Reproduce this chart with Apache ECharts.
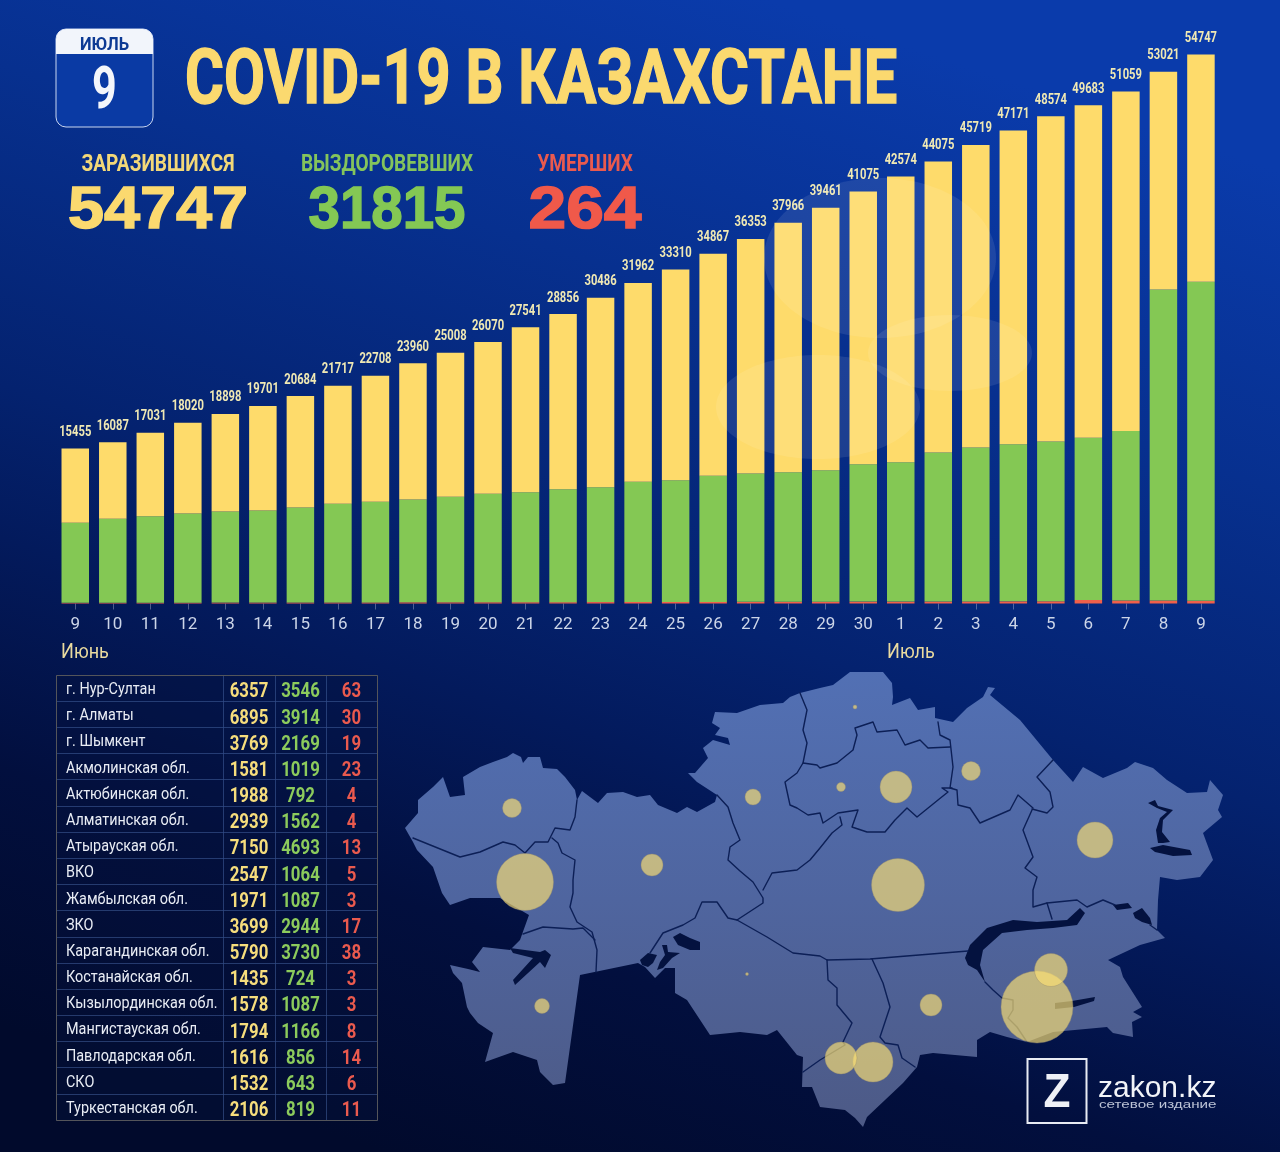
<!DOCTYPE html>
<html>
<head>
<meta charset="utf-8">
<style>html,body{margin:0;padding:0;background:#021040}#chart{width:1280px;height:1152px}</style>
<script src="https://cdn.jsdelivr.net/npm/echarts@6/dist/echarts.min.js"></script>
</head>
<body>
<div id="chart"></div>
<script>
var ROBOTO = 'Roboto,"Liberation Sans",sans-serif';
var SANS = '"Liberation Sans",sans-serif';

// bar chart
var days = ['9','10','11','12','13','14','15','16','17','18','19','20','21','22','23','24','25','26','27','28','29','30','1','2','3','4','5','6','7','8','9'];
var totals = [15455,16087,17031,18020,18898,19701,20684,21717,22708,23960,25008,26070,27541,28856,30486,31962,33310,34867,36353,37966,39461,41075,42574,44075,45719,47171,48574,49683,51059,53021,54747];
var recovered = [7981,8375,8631,8892,9084,9179,9474,9838,10031,10252,10519,10812,10967,11262,11453,11985,12137,12571,12791,12914,13109,13700,13900,14860,15349,15670,15930,16170,16898,31006,31815];
var deaths = [65,70,73,81,88,93,97,102,108,117,119,125,130,134,142,148,156,161,170,177,181,188,188,195,204,212,221,350,300,300,264];
var active = totals.map(function(t, i) { return t - recovered[i] - deaths[i]; });

// table
var regions = ['г. Нур-Султан','г. Алматы','г. Шымкент','Акмолинская обл.','Актюбинская обл.','Алматинская обл.','Атырауская обл.','ВКО','Жамбылская обл.','ЗКО','Карагандинская обл.','Костанайская обл.','Кызылординская обл.','Мангистауская обл.','Павлодарская обл.','СКО','Туркестанская обл.'];
var regionCases = [6357,6895,3769,1581,1988,2939,7150,2547,1971,3699,5790,1435,1578,1794,1616,1532,2106];
var regionRecovered = [3546,3914,2169,1019,792,1562,4693,1064,1087,2944,3730,724,1087,1166,856,643,819];
var regionDeaths = [63,30,19,23,4,4,13,5,3,17,38,3,3,8,14,6,11];

// map, in map units
var countryOutline = [[405,828],[418,813],[418,800],[433,787],[443,777],[450,797],[465,795],[463,777],[480,767],[493,762],[507,757],[513,753],[521,757],[523,763],[528,757],[540,757],[543,768],[557,769],[565,777],[575,790],[577,800],[582,791],[590,797],[598,803],[607,793],[623,792],[637,797],[650,795],[658,805],[677,813],[687,807],[697,812],[715,802],[717,795],[697,782],[688,773],[695,773],[708,758],[703,748],[713,740],[730,745],[728,738],[715,735],[720,728],[712,723],[715,712],[737,713],[760,705],[783,703],[790,697],[800,693],[820,688],[833,685],[850,672],[883,672],[892,683],[893,697],[892,705],[910,698],[918,710],[935,707],[935,718],[953,722],[967,708],[983,697],[988,687],[995,688],[990,695],[1020,720],[1053,760],[1073,782],[1083,767],[1103,778],[1127,768],[1135,762],[1153,768],[1167,780],[1187,793],[1207,792],[1210,780],[1223,795],[1218,810],[1222,817],[1203,833],[1213,860],[1200,877],[1177,880],[1160,877],[1158,900],[1157,930],[1165,938],[1140,945],[1108,960],[1120,967],[1123,977],[1142,1007],[1133,1012],[1142,1017],[1132,1022],[1133,1037],[1113,1033],[1107,1027],[1053,1032],[1027,1042],[1007,1037],[990,1032],[977,1040],[977,1057],[933,1053],[920,1055],[917,1067],[903,1083],[867,1117],[863,1127],[855,1118],[845,1110],[820,1107],[812,1087],[802,1087],[803,1057],[797,1055],[777,1030],[767,1035],[740,1032],[710,1035],[687,1000],[675,993],[675,968],[665,968],[655,978],[645,967],[638,963],[580,975],[565,1083],[553,1085],[540,1072],[537,1060],[513,1052],[485,1062],[493,1033],[478,1023],[470,1013],[467,1007],[462,983],[453,973],[450,965],[468,969],[480,972],[472,962],[483,947],[510,950],[520,940],[529,915],[500,898],[470,898],[450,905],[442,893],[433,867],[417,850],[413,842]];
var lakes = [
	[[510,948],[540,952],[545,950],[551,955],[545,968],[540,962],[515,985],[513,980],[533,958],[513,953]],
	[[673,937],[680,933],[690,938],[700,942],[700,950],[690,950],[678,945]],
	[[640,960],[648,953],[657,955],[653,963],[648,967],[642,965]],
	[[662,945],[667,945],[668,952],[680,953],[672,958],[663,968],[657,970],[660,962],[665,955]],
	[[965,958],[970,945],[987,928],[1013,920],[1037,922],[1067,920],[1080,908],[1085,913],[1077,925],[1053,928],[1027,930],[1002,933],[983,950],[980,965],[985,982],[977,970],[968,965]],
	[[1113,905],[1128,903],[1132,908],[1117,910]],
	[[1133,913],[1142,908],[1150,918],[1152,925],[1142,922],[1135,918]],
	[[1055,1003],[1072,1001],[1095,997],[1094,1001],[1074,1007],[1055,1009]],
	[[1148,803],[1155,800],[1158,806],[1173,810],[1163,820],[1162,832],[1170,842],[1163,843],[1158,843],[1156,830],[1160,818],[1167,812],[1157,808]],
	[[1150,848],[1163,845],[1190,850],[1192,855],[1173,856],[1155,852]]
];
var borders = [
	[[413,838],[460,857],[480,852],[503,842],[515,845],[525,853],[535,842],[548,842],[555,828],[570,830],[575,817],[577,800]],
	[[552,838],[558,843],[562,853],[575,860],[573,880],[573,893],[570,907],[577,922],[592,932],[597,950],[596,972]],
	[[523,934],[543,927],[573,929],[583,928],[595,940]],
	[[717,795],[728,807],[733,823],[740,840],[730,847],[728,860],[740,871],[753,882],[763,898],[763,903],[737,920],[728,918],[717,902],[702,902],[695,918],[683,925],[663,933],[650,953]],
	[[763,890],[772,873],[797,870],[810,860],[820,848],[832,833],[842,825],[840,817]],
	[[800,693],[807,710],[803,730],[807,743],[803,763],[797,773],[785,782],[790,805],[797,808],[808,815],[820,813],[823,823],[838,813],[858,810],[852,827],[867,832],[885,832],[895,820],[907,808],[917,817],[938,800],[948,792],[942,788],[952,788]],
	[[803,763],[817,765],[820,768],[837,763],[853,750],[857,735],[855,728],[873,722],[877,732],[897,730],[905,745],[920,740],[928,748],[950,747]],
	[[938,722],[940,735],[950,740],[953,767],[950,788],[957,790],[958,805],[970,808],[980,823],[1010,810],[1018,795],[1033,808]],
	[[1053,760],[1037,777],[1050,792],[1053,807],[1047,813],[1032,809]],
	[[1032,810],[1023,830],[1033,857],[1025,868],[1037,877],[1033,890],[1033,907],[1047,903],[1052,919]],
	[[1047,903],[1077,900],[1087,907],[1103,900],[1115,905]],
	[[1150,925],[1157,930]],
	[[737,920],[767,937],[793,953],[820,956],[827,960],[870,959],[968,951]],
	[[827,960],[828,980],[837,988],[837,1005],[852,1023],[843,1042],[845,1045],[820,1060],[803,1072]],
	[[872,959],[883,983],[890,1007],[880,1037],[885,1043],[898,1045],[902,1058],[915,1067]],
	[[985,982],[993,990],[1002,998],[1013,1000],[1013,1010],[1008,1018],[1017,1027],[1027,1042]]
];
var bubblePlaces = [[896,787],[1037,1007],[873,1062],[841,787],[652,865],[1051,970],[525,882],[1095,840],[931,1005],[512,808],[898,885],[753,797],[747,974],[542,1006],[971,771],[855,707],[841,1058]];
var bubbleDiameters = [32,72,40,9,22,33,57,36,22,19,53,16,3,15,19,4,32];

function polygonFeature(name, ring) {
	return {
		type: 'Feature',
		properties: { name: name },
		geometry: { type: 'Polygon', coordinates: [ring.concat([ring[0]])] }
	};
}
var features = [polygonFeature('country', countryOutline)];
var lakeRegions = [];
lakes.forEach(function(ring, i) {
	features.push(polygonFeature('lake' + i, ring));
	lakeRegions.push({ name: 'lake' + i, itemStyle: { areaColor: '#04123f' } });
});
echarts.registerMap('kz', { type: 'FeatureCollection', features: features });

var xs = countryOutline.map(function(p) { return p[0]; });
var ys = countryOutline.map(function(p) { return p[1]; });
var mapLeft = Math.min.apply(null, xs), mapRight = Math.max.apply(null, xs);
var mapTop = Math.min.apply(null, ys), mapBottom = Math.max.apply(null, ys);

var tableColors = ['#e9edf5', '#f6dd7c', '#8ccb5c', '#ea5a4e'];
var tableCells = [];
var tableTexts = [];
regions.forEach(function(name, r) {
	[name, regionCases[r], regionRecovered[r], regionDeaths[r]].forEach(function(v, c) {
		tableCells.push({ coord: [c, r], value: '' });
		tableTexts.push([c, r, String(v)]);
	});
});

function headText(x, y, text, size, color, font, scaleX, align, stroke) {
	return {
		type: 'text', x: x, y: y, scaleX: scaleX || 1, silent: true,
		style: {
			text: text, fill: color, font: 'bold ' + size + 'px ' + (font || ROBOTO),
			textAlign: align || 'center', textVerticalAlign: 'middle',
			stroke: stroke ? color : null, lineWidth: stroke || 0
		}
	};
}
function emblem(cx, cy, rx, ry) {
	return { type: 'ellipse', silent: true, z: 6, shape: { cx: cx, cy: cy, rx: rx, ry: ry }, style: { fill: 'rgba(255,255,255,0.09)' } };
}

var chart = echarts.init(document.getElementById('chart'), null, { renderer: 'canvas' });
chart.setOption({
	animation: false,
	backgroundColor: new echarts.graphic.LinearGradient(0.6, 0, 0.3, 1, [
		{ offset: 0, color: '#0a3bab' },
		{ offset: 0.25, color: '#07308f' },
		{ offset: 0.5, color: '#04226f' },
		{ offset: 0.62, color: '#031a5c' },
		{ offset: 0.8, color: '#020f3e' },
		{ offset: 1, color: '#010a2c' }
	]),
	graphic: { elements: [
		{ type: 'rect', silent: true, shape: { x: 56, y: 29, width: 97, height: 98, r: 10 }, style: { fill: '#0a3aa4', stroke: '#c9d6f0', lineWidth: 1 } },
		{ type: 'rect', silent: true, shape: { x: 56, y: 29, width: 97, height: 25, r: [10, 10, 0, 0] }, style: { fill: '#f2f5fb' } },
		headText(104.5, 45, 'ИЮЛЬ', 18, '#0d3a94', ROBOTO, 0.92),
		headText(104.5, 93, '9', 60, '#f4f6fb', ROBOTO, 0.72),
		headText(185, 84, 'COVID-19 В КАЗАХСТАНЕ', 76, '#fbd96f', ROBOTO, 0.782, 'left', 1.5),
		headText(158, 165, 'ЗАРАЗИВШИХСЯ', 23, '#f3d878', ROBOTO, 0.83),
		headText(387, 165, 'ВЫЗДОРОВЕВШИХ', 23, '#84c45c', ROBOTO, 0.83),
		headText(585, 165, 'УМЕРШИХ', 23, '#ea5a4e', ROBOTO, 0.83),
		headText(158, 211, '54747', 60, '#fbd96f', SANS, 1.08, 'center', 1.5),
		headText(387, 211, '31815', 60, '#84c854', SANS, 0.94, 'center', 1.5),
		headText(585, 211, '264', 60, '#f0594a', SANS, 1.13, 'center', 1.5),
		{ type: 'text', x: 61, y: 653, scaleX: 0.86, silent: true, style: { text: 'Июнь', fill: '#eadb9f', font: '21px ' + ROBOTO, textVerticalAlign: 'middle' } },
		{ type: 'text', x: 887, y: 653, scaleX: 0.86, silent: true, style: { text: 'Июль', fill: '#eadb9f', font: '21px ' + ROBOTO, textVerticalAlign: 'middle' } },
		emblem(880, 258, 116, 80),
		emblem(950, 353, 82, 38),
		emblem(818, 407, 102, 52),
		{ type: 'rect', silent: true, z: 20, shape: { x: 1027.5, y: 1059, width: 59, height: 64 }, style: { fill: 'transparent', stroke: '#e8ebf3', lineWidth: 2 } },
		headText(1057, 1094, 'Z', 48, '#eef0f6', SANS, 0.92),
		{ type: 'text', x: 1098, y: 1089, silent: true, style: { text: 'zakon.kz', fill: '#f2f4f8', font: '30px ' + SANS, textVerticalAlign: 'middle' } },
		{ type: 'text', x: 1099, y: 1105, scaleX: 1.38, silent: true, style: { text: 'сетевое издание', fill: '#bcc3d6', font: '11px ' + SANS, textVerticalAlign: 'middle' } }
	] },
	grid: { left: 56.5, top: 51.9, width: 1163.2, height: 551.6 },
	xAxis: {
		type: 'category',
		data: days,
		axisLine: { show: false },
		axisTick: { show: true, length: 6, alignWithLabel: true, lineStyle: { color: 'rgba(255,255,255,0.3)' } },
		axisLabel: { color: '#ccd5e8', fontFamily: ROBOTO, fontSize: 17, margin: 13, interval: 0 }
	},
	yAxis: { type: 'value', min: 0, max: 55000, show: false, splitLine: { show: false } },
	geo: {
		map: 'kz',
		roam: false,
		silent: true,
		projection: { project: function(p) { return p; }, unproject: function(p) { return p; } },
		left: mapLeft, top: mapTop, width: mapRight - mapLeft, height: mapBottom - mapTop,
		label: { show: false },
		itemStyle: {
			areaColor: new echarts.graphic.LinearGradient(0, 0, 0, 1, [
				{ offset: 0, color: '#5270b4' },
				{ offset: 0.5, color: '#4f659f' },
				{ offset: 1, color: '#4d5a86' }
			]),
			borderWidth: 0
		},
		regions: lakeRegions
	},
	matrix: {
		left: 56, top: 675, width: 321, height: 445,
		x: { show: false, data: [{ value: 'region', size: 167 }, { value: 'cases', size: 52 }, { value: 'recovered', size: 51 }, { value: 'deaths', size: 51 }] },
		y: { show: false, data: regions },
		body: {
			data: tableCells,
			itemStyle: { color: 'rgba(6,18,60,0.4)', borderColor: 'rgba(70,100,160,0.35)', borderWidth: 1 }
		}
	},
	series: [
		{ name: 'deaths', type: 'bar', stack: 'all', barWidth: 27.5, data: deaths, itemStyle: { color: '#f0604a' }, silent: true },
		{ name: 'recovered', type: 'bar', stack: 'all', data: recovered, itemStyle: { color: '#84c854' }, silent: true },
		{ name: 'active', type: 'bar', stack: 'all', data: active, itemStyle: { color: '#fedb6b' }, silent: true },
		{
			name: 'totals', type: 'custom', coordinateSystem: 'cartesian2d', silent: true, z: 5,
			encode: { x: 0, y: 1 },
			data: totals.map(function(t, i) { return [i, t]; }),
			renderItem: function(params, api) {
				var p = api.coord([api.value(0), api.value(1)]);
				return {
					type: 'text', x: p[0], y: p[1] - 16, scaleX: 0.8,
					style: { text: String(api.value(1)), fill: '#f0e9b4', font: 'bold 14px ' + ROBOTO, textAlign: 'center', textVerticalAlign: 'middle' }
				};
			}
		},
		{
			type: 'lines', coordinateSystem: 'geo', polyline: true, silent: true,
			lineStyle: { color: '#0c1f56', width: 1.4, opacity: 1, cap: 'round', join: 'round' },
			data: borders.map(function(b) { return { coords: b }; })
		},
		{
			type: 'scatter', coordinateSystem: 'geo', silent: true,
			symbolSize: function(v, p) { return bubbleDiameters[p.dataIndex]; },
			itemStyle: { color: 'rgba(250,224,116,0.84)', borderColor: 'rgba(150,140,110,0.5)', borderWidth: 1 },
			data: bubblePlaces.map(function(p, i) { return { name: regions[i], value: [p[0], p[1], regionCases[i]] }; })
		},
		{
			name: 'table', type: 'custom', coordinateSystem: 'matrix', silent: true, z: 5,
			data: tableTexts,
			dimensions: [{ name: 'col', type: 'number' }, { name: 'row', type: 'number' }, { name: 'text', type: 'ordinal' }],
			renderItem: function(params, api) {
				var c = api.value(0), r = api.value(1);
				var lay = api.layout([c, r]);
				var rect = lay.rect || lay;
				var text = tableTexts[params.dataIndex][2];
				if (c === 0) {
					return {
						type: 'text', x: rect.x + 10, y: rect.y + rect.height / 2 + 2, scaleX: 0.9,
						style: { text: text, fill: tableColors[0], font: '16px ' + ROBOTO, textAlign: 'left', textVerticalAlign: 'middle' }
					};
				}
				return {
					type: 'text', x: rect.x + rect.width / 2, y: rect.y + rect.height / 2 + 4, scaleX: 0.8,
					style: { text: text, fill: tableColors[c], font: 'bold 21px ' + ROBOTO, textAlign: 'center', textVerticalAlign: 'middle' }
				};
			}
		}
	]
});
</script>
</body>
</html>
